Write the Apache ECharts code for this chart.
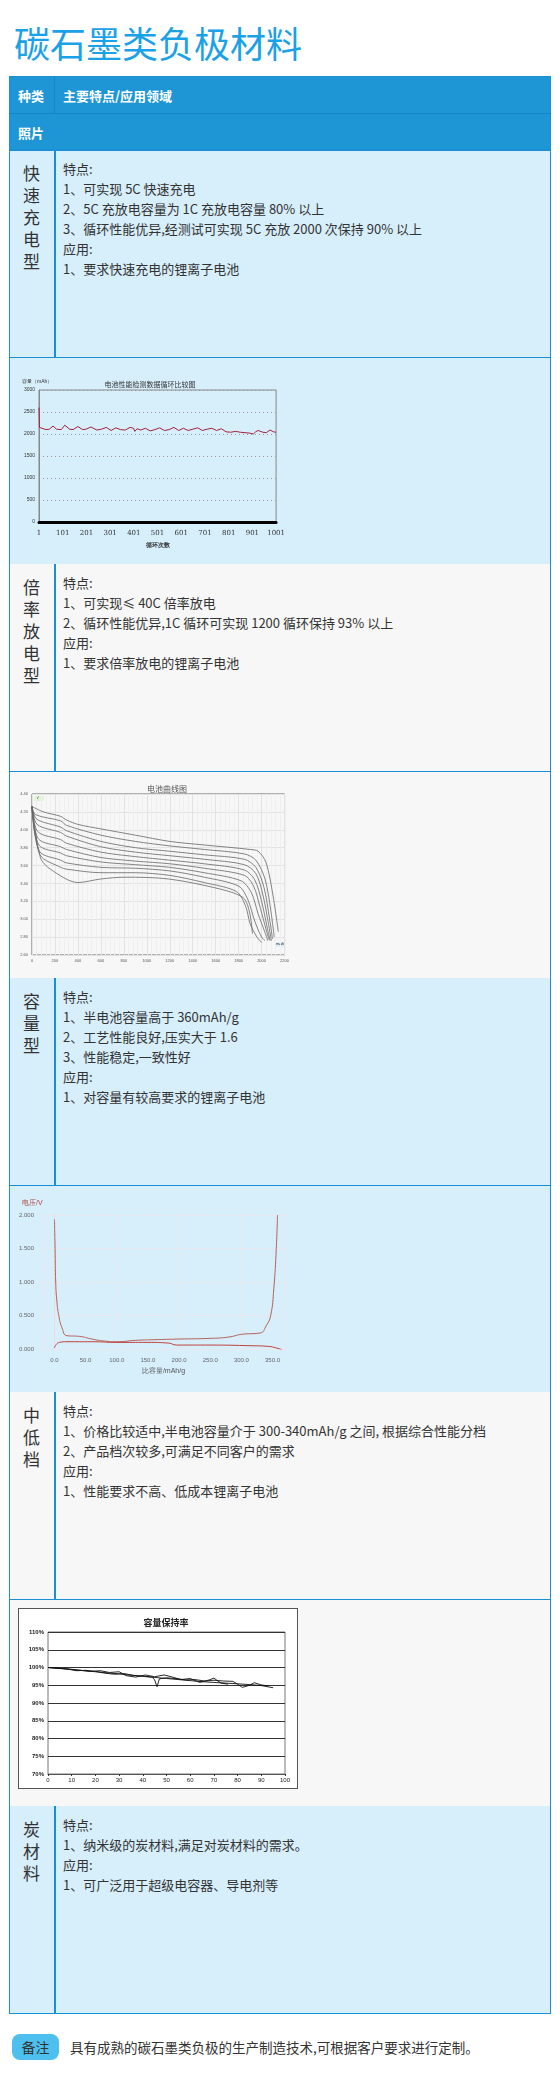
<!DOCTYPE html>
<html><head><meta charset="utf-8">
<script src="https://cdn.jsdelivr.net/npm/echarts@6/dist/echarts.min.js"></script>
<style>
body{margin:0;width:560px;height:2100px;background:#fff;font-family:"Noto Sans CJK SC","Noto Sans",sans-serif;position:relative;overflow:hidden}
.a{position:absolute;box-sizing:border-box}
.txt{font-size:13px;line-height:20px;color:#333;white-space:nowrap}
.lc{font-size:17px;line-height:22px;color:#333;text-align:center;width:45px}
</style></head><body>
<div id="root"></div>
<script>
// ---------- data ----------
const rowNames=["快速充电型","倍率放电型","容量型","中低档","炭材料"];
const rowTexts=[
["特点:","1、可实现 5C 快速充电","2、5C 充放电容量为 1C 充放电容量 80% 以上","3、循环性能优异,经测试可实现 5C 充放 2000 次保持 90% 以上","应用:","1、要求快速充电的锂离子电池"],
["特点:","1、可实现≤ 40C 倍率放电","2、循环性能优异,1C 循环可实现 1200 循环保持 93% 以上","应用:","1、要求倍率放电的锂离子电池"],
["特点:","1、半电池容量高于 360mAh/g","2、工艺性能良好,压实大于 1.6","3、性能稳定,一致性好","应用:","1、对容量有较高要求的锂离子电池"],
["特点:","1、价格比较适中,半电池容量介于 300-340mAh/g 之间, 根据综合性能分档","2、产品档次较多,可满足不同客户的需求","应用:","1、性能要求不高、低成本锂离子电池"],
["特点:","1、纳米级的炭材料,满足对炭材料的需求。","应用:","1、可广泛用于超级电容器、导电剂等"]];
// chart1
const cycles1=[1,3,10,30,45,60,75,95,110,130,145,165,185,200,220,245,265,285,305,325,345,365,385,400,405,415,430,450,470,490,510,530,550,570,590,610,630,650,670,690,710,730,750,770,790,810,830,850,870,890,905,915,925,945,960,975,990,1001];
const cap1=[2600,2150,2120,2100,2110,2180,2110,2100,2200,2110,2100,2170,2100,2110,2160,2090,2110,2150,2080,2140,2100,2090,2150,2130,2060,2120,2090,2130,2070,2100,2140,2080,2100,2150,2080,2130,2080,2110,2140,2080,2110,2130,2080,2120,2050,2040,2060,2040,2030,2020,2000,2050,2080,2040,2030,2090,2050,2040];
const xTicks1=[1,101,201,301,401,501,601,701,801,901,1001];
// chart2 discharge curves [mAh, V]
const curve1=[[0,4.26],[100,4.20],[250,4.15],[300,4.11],[400,4.06],[600,4.01],[900,3.94],[1200,3.87],[1500,3.83],[1900,3.78],[1970,3.76],[2040,3.63],[2100,3.26],[2146,2.86]];
const curve2=[[0,4.26],[30,4.17],[250,4.10],[300,4.05],[600,3.94],[900,3.87],[1200,3.82],[1500,3.78],[1850,3.73],[1950,3.66],[2030,3.45],[2080,3.10],[2110,2.80]];
const curve3=[[0,4.26],[40,4.12],[250,4.03],[300,3.99],[600,3.87],[900,3.80],[1200,3.76],[1500,3.72],[1850,3.67],[1950,3.58],[2020,3.36],[2070,3.00],[2095,2.78]];
const curve4=[[0,4.26],[45,4.06],[250,3.97],[300,3.93],[600,3.81],[900,3.75],[1200,3.71],[1500,3.67],[1850,3.61],[1950,3.51],[2010,3.28],[2060,2.95],[2085,2.76]];
const curve5=[[0,4.26],[50,3.98],[250,3.89],[300,3.85],[600,3.75],[900,3.70],[1200,3.66],[1500,3.62],[1850,3.55],[1940,3.44],[2000,3.20],[2050,2.90],[2075,2.76]];
const curve6=[[0,4.26],[55,3.90],[250,3.81],[300,3.78],[600,3.69],[900,3.65],[1200,3.62],[1500,3.57],[1850,3.49],[1930,3.37],[1990,3.12],[2040,2.88],[2065,2.77]];
const curve7=[[0,4.26],[60,3.83],[250,3.74],[300,3.71],[600,3.64],[900,3.61],[1200,3.58],[1500,3.52],[1820,3.43],[1910,3.30],[1970,3.06],[2030,2.85],[2055,2.76]];
const curve8=[[0,4.26],[65,3.76],[250,3.66],[300,3.63],[600,3.58],[900,3.57],[1200,3.54],[1500,3.47],[1800,3.37],[1880,3.22],[1940,2.98],[2000,2.80],[2030,2.76]];
const curve9=[[0,4.26],[70,3.72],[250,3.58],[300,3.56],[600,3.52],[900,3.52],[1200,3.49],[1500,3.41],[1780,3.31],[1860,3.15],[1900,2.95],[1960,2.80],[2000,2.74]];
const curve10=[[0,4.26],[73,3.69],[160,3.56],[400,3.41],[600,3.45],[810,3.47],[1190,3.45],[1630,3.34],[1840,3.24],[1895,3.08],[1920,2.84]];
// chart3 [mAh/g, V]
const chargeCurve=[[0,1.94],[1,1.5],[2,1.0],[4,0.7],[7,0.5],[12,0.32],[20,0.2],[40,0.19],[60,0.15],[80,0.12],[100,0.11],[130,0.13],[160,0.14],[200,0.15],[250,0.16],[280,0.18],[300,0.22],[330,0.24],[340,0.35],[347,0.5],[352,0.9],[356,1.5],[358,2.0]];
const dischargeCurve=[[0,0.02],[3,0.07],[8,0.10],[20,0.11],[60,0.11],[100,0.10],[150,0.10],[183,0.09],[196,0.06],[250,0.06],[317,0.05],[344,0.04],[355,0.02],[365,-0.01]];
const xTicks3=[0,50,100,150,200,250,300,350];
// chart4 retention [cycle, %]
const retA=[[0,100],[5,99.8],[10,99.4],[15,99.1],[20,98.8],[25,98.5],[30,98.2],[35,97.8],[40,97.5],[45,97.2],[50,96.9],[55,96.6],[60,96.3],[65,96.0],[70,95.8],[75,95.6],[80,95.4],[85,95.2],[90,94.9],[95,94.3]];
const retB=[[0,100],[4,99.8],[8,99.6],[12,99.1],[16,99.2],[20,98.9],[24,98.4],[28,98.1],[32,98.3],[36,97.8],[40,97.6],[44,97.3],[45,96.5],[46,94.6],[47,96.8],[50,97.1],[54,96.9],[58,96.5],[62,96.6],[66,96.2],[70,96.4],[74,96.2],[78,96.1],[80,95.3],[82,94.4],[85,95.0],[87,95.7],[90,95.1],[93,94.8]];
const retC=[[0,100],[5,99.7],[10,99.5],[14,99.2],[18,98.9],[22,99.1],[26,98.6],[30,98.8],[33,97.7],[37,97.3],[41,97.9],[45,97.4],[49,97.9],[52,97.4],[56,96.6],[60,96.9],[64,95.8],[68,96.5],[70,97.0],[73,95.6],[76,95.3]];
</script>
<script>
const root=document.getElementById('root');
function el(cls,style,html){const d=document.createElement('div');d.className='a '+(cls||'');Object.assign(d.style,style);if(html!==undefined)d.innerHTML=html;root.appendChild(d);return d;}
const B='#1a8fd6',L=9,R=551,C=54;
el('', {left:'14px',top:'18px',fontSize:'36px',lineHeight:'48px',color:'#1ba1e6',whiteSpace:'nowrap'},'碳石墨类负极材料');
el('', {left:L+'px',top:'76px',width:(R-L)+'px',height:'74px',background:'#1e96d6',border:'1.5px solid '+B});
el('', {left:L+'px',top:'113px',width:(R-L)+'px',height:'1px',background:'#1586c8'});
el('', {left:C+'px',top:'76px',width:'1px',height:'37px',background:'#1586c8'});
el('', {left:'18px',top:'86px',color:'#fff',fontWeight:'bold',fontSize:'13px',lineHeight:'20px'},'种类');
el('', {left:'63px',top:'86px',color:'#fff',fontWeight:'bold',fontSize:'13px',lineHeight:'20px'},'主要特点/应用领域');
el('', {left:'18px',top:'123px',color:'#fff',fontWeight:'bold',fontSize:'13px',lineHeight:'20px'},'照片');
const bgs=['#d7eefb','#f7f7f7'];
for(let i=0;i<5;i++){
  const top=150+i*414, bg=bgs[i%2];
  el('', {left:L+'px',top:top+'px',width:(R-L)+'px',height:'208px',background:bg,border:'1.5px solid '+B,borderTop:i?'0':'1.5px solid '+B});
  el('', {left:C+'px',top:top+'px',width:'1.5px',height:'207px',background:B});
  el('lc', {left:L+'px',top:(top+12)+'px'},rowNames[i].split('').join('<br>'));
  el('txt', {left:'63px',top:(top+9)+'px'},rowTexts[i].join('<br>'));
  if(i<4){
    el('', {left:L+'px',top:(top+207)+'px',width:(R-L)+'px',height:'208px',background:bg,border:'1.5px solid '+B,borderTop:'1.5px solid '+B});
  }
}
const c1=el('',{left:'12px',top:'370px',width:'276px',height:'185px'});
const c2=el('',{left:'12px',top:'778px',width:'280px',height:'193px'});
const c3=el('',{left:'12px',top:'1195px',width:'282px',height:'185px'});
const c4=el('',{left:'18px',top:'1608px',width:'280px',height:'181px',background:'#fff',border:'1px solid #555'});
el('', {left:'12px',top:'2034px',width:'47px',height:'26px',background:'#4dc0ef',borderRadius:'8px',textAlign:'center',fontSize:'14px',lineHeight:'26px',color:'#333'},'备注');
el('txt', {left:'70px',top:'2036px',fontSize:'13.5px',lineHeight:'22px'},'具有成熟的碳石墨类负极的生产制造技术,可根据客户要求进行定制。');

const F='"Noto Sans CJK SC",sans-serif';
const plain=v=>String(v);
// chart1
echarts.init(c1).setOption({animation:false,
 title:{text:'电池性能检测数据循环比较图',left:'center',top:6,textStyle:{fontSize:7,fontWeight:'normal',color:'#333',fontFamily:F}},
 graphic:[{type:'text',left:10,top:9,style:{text:'容量（mAh）',fontSize:5,fill:'#333'}}],
 grid:{left:27,right:8,top:20,bottom:33,show:true,borderColor:'#888',borderWidth:1},
 xAxis:{type:'value',min:1,max:1001,name:'循环次数',nameLocation:'middle',nameGap:18,nameTextStyle:{fontSize:6,color:'#333',fontWeight:'bold'},
   axisLine:{lineStyle:{color:'#000',width:3}},axisTick:{show:false},splitLine:{show:false},
   axisLabel:{customValues:xTicks1,fontSize:7,color:'#333',fontFamily:'DejaVu Serif',formatter:plain}},
 yAxis:{type:'value',min:0,max:3000,interval:500,axisLine:{show:true,lineStyle:{color:'#888'}},axisTick:{show:false},
   axisLabel:{fontSize:5,color:'#333',margin:4,formatter:plain},splitLine:{lineStyle:{color:'#999',type:[1,3]}}},
 series:[{type:'line',data:cycles1.map((c,i)=>[c,cap1[i]]),showSymbol:false,lineStyle:{color:'#a3203c',width:1}}]});
// chart2
const curves=[curve1,curve2,curve3,curve4,curve5,curve6,curve7,curve8,curve9,curve10];
echarts.init(c2).setOption({animation:false,
 title:{text:'电池曲线图',left:150,top:2,textAlign:'center',textStyle:{fontSize:8,fontWeight:'normal',color:'#555',fontFamily:F}},
 graphic:[{type:'rect',left:22,top:18,shape:{width:10,height:5},style:{fill:'#dff5d8'}},{type:'text',left:24,top:18,style:{text:'V',fontSize:4,fill:'#333'}},
   {type:'rect',left:263,top:164,shape:{width:10,height:5},style:{fill:'#d8f0f8'}},{type:'text',left:264,top:164,style:{text:'mAh',fontSize:4,fill:'#333'}}],
 grid:{left:20,right:7,top:16,bottom:16,show:true,borderColor:'#666',borderWidth:1},
 xAxis:{type:'value',min:0,max:2200,interval:200,axisLine:{show:false},axisTick:{show:false},axisLabel:{fontSize:4,color:'#555',margin:4,formatter:plain},splitLine:{lineStyle:{color:'#e2e2e2'}},minorSplitLine:{show:true,lineStyle:{color:'#efefef'}}},
 yAxis:{type:'value',min:2.6,max:4.4,interval:0.2,axisLine:{show:false},axisTick:{show:false},axisLabel:{fontSize:4,color:'#555',margin:4,formatter:v=>v.toFixed(2)},splitLine:{lineStyle:{color:'#e2e2e2'}}},
 series:curves.map(c=>({type:'line',data:c,smooth:0.3,showSymbol:false,lineStyle:{color:'#666',width:0.8}}))});
// chart3
echarts.init(c3).setOption({animation:false,
 graphic:[{type:'text',left:10,top:5,style:{text:'电压/V',fontSize:7,fill:'#b0403a'}}],
 grid:{left:30,right:9,top:20,bottom:30},
 xAxis:{type:'value',min:-20,max:370,name:'比容量/mAh/g',nameLocation:'middle',nameGap:18,nameTextStyle:{fontSize:7,color:'#555'},
   axisLine:{show:false},axisTick:{show:false},axisLabel:{customValues:xTicks3,fontSize:6,color:'#666',formatter:v=>v.toFixed(1)},
   splitLine:{show:true,lineStyle:{color:'#f0e4e8',type:'dashed'}}},
 yAxis:{type:'value',min:0,max:2,interval:0.5,
   axisLine:{show:true,lineStyle:{color:'#ecd8de',type:'dashed'}},axisTick:{show:false},axisLabel:{fontSize:6,color:'#666',formatter:v=>v.toFixed(3)},
   splitLine:{lineStyle:{color:'#f0e4e8',type:'dashed'}}},
 series:[{type:'line',data:chargeCurve,smooth:true,showSymbol:false,lineStyle:{color:'#b5625a',width:1}},
   {type:'line',data:dischargeCurve,smooth:true,showSymbol:false,lineStyle:{color:'#c0403a',width:1}}]});
// chart4
echarts.init(c4).setOption({animation:false,
 title:{text:'容量保持率',left:142,top:4,textAlign:'center',textStyle:{fontSize:9,fontWeight:'bold',color:'#222',fontFamily:F}},
 grid:{left:29,right:12,top:23,bottom:14,show:true,borderColor:'#777',borderWidth:1},
 xAxis:{type:'value',min:0,max:100,interval:10,axisLine:{lineStyle:{color:'#555'}},axisTick:{show:true,length:2,lineStyle:{color:'#333'}},axisLabel:{fontSize:6,color:'#222',margin:3},splitLine:{show:false}},
 yAxis:{type:'value',min:70,max:110,interval:5,axisLine:{show:false},axisTick:{show:false},axisLabel:{fontSize:6,color:'#222',fontWeight:'bold',margin:4,formatter:'{value}%'},splitLine:{lineStyle:{color:'#333',width:1}}},
 series:[retA,retB,retC].map(d=>({type:'line',data:d,showSymbol:false,lineStyle:{color:'#111',width:0.9}}))});
</script></body></html>
